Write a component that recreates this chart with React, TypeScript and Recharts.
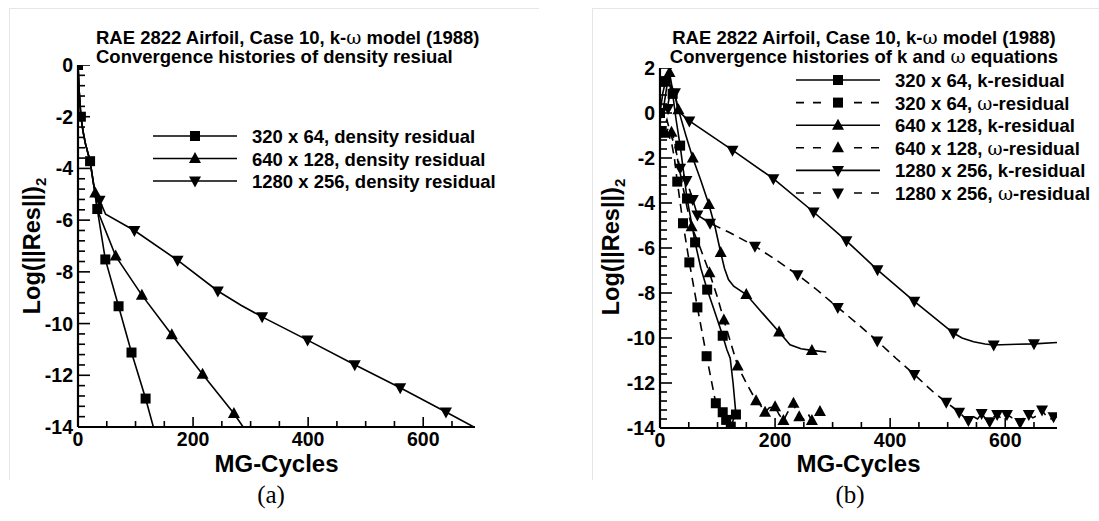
import React from "react";
import { ComposedChart, Line, Scatter, XAxis, YAxis } from "recharts";

type P = { x: number; y: number };
const pts = (a: number[][]): P[] => a.map(([x, y]) => ({ x, y }));

// (a) density residual histories: MG-cycle, log residual
const dens320Line = [[0, 0], [2, -1], [5, -2], [9, -2.6], [13, -3.05], [21, -3.72], [27, -4.6], [33.5, -5.57], [47.5, -7.52], [70.5, -9.33], [93, -11.12], [117.5, -12.9], [131, -14]];
const dens320Marks = [[0, 0], [5, -2], [21, -3.72], [33.5, -5.57], [47.5, -7.52], [70.5, -9.33], [93, -11.12], [117.5, -12.9]];
const dens640Line = [[0, 0], [2, -1], [5, -2], [9, -2.6], [13, -3.05], [21, -3.72], [27, -4.6], [30, -4.95], [33.5, -5.6], [65.5, -7.39], [111, -8.9], [163, -10.43], [216.5, -11.96], [271, -13.48], [287, -14]];
const dens640Marks = [[30, -4.95], [65.5, -7.39], [111, -8.9], [163, -10.43], [216.5, -11.96], [271, -13.48]];
const dens1280Line = [[0, 0], [2, -1], [5, -2], [9, -2.6], [13, -3.05], [21, -3.72], [27, -4.6], [31, -5], [37.5, -5.23], [48, -5.77], [98, -6.4], [173, -7.55], [243, -8.74], [284, -9.3], [320, -9.74], [399, -10.64], [481, -11.59], [560, -12.48], [639.5, -13.42], [688, -14]];
const dens1280Marks = [[37.5, -5.23], [98, -6.4], [173, -7.55], [243, -8.74], [320, -9.74], [399, -10.64], [481, -11.59], [560, -12.48], [639.5, -13.42]];

// (b) k and omega residual histories
const k320Line = [[0, 0], [5, 0.9], [10, 1.45], [16, 1.3], [22, 0.85], [28, -0.3], [35, -1.45], [47, -3.8], [61, -5.75], [71, -6.9], [82, -7.85], [96, -8.9], [109, -9.9], [116, -10.5], [122, -10.9], [127, -12], [132, -13.4], [137, -13.5]];
const k320Marks = [[0, 0], [10, 1.4], [22, 0.85], [35, -1.45], [47, -3.8], [61, -5.75], [82, -7.85], [109, -9.9], [132, -13.4]];
const w320Line = [[0, -0.8], [5, -0.9], [10, -0.6], [15, -1], [20, -1.3], [25, -2], [30, -3.05], [40, -4.9], [51, -6.64], [65, -8.64], [81, -10.81], [97, -12.9], [103, -13.1], [109, -13.3], [115, -13.64], [119, -13.5], [123, -13.94], [128, -13.6], [133, -13.4]];
const w320Marks = [[3, -0.8], [30, -3.05], [40, -4.9], [51, -6.64], [65, -8.64], [81, -10.81], [97, -12.9], [109, -13.3], [115, -13.64], [123, -13.94]];
const k640Line = [[0, -0.3], [6, 0.2], [12, 1.2], [16.5, 1.8], [22, 1], [28, 0.6], [32, 0.15], [45, -1], [57, -2], [71, -3], [85, -4.07], [96, -5.1], [105.5, -6.2], [112, -6.9], [119, -7.4], [128, -7.7], [150, -8.07], [180, -8.95], [207, -9.73], [226, -10.3], [245, -10.48], [264, -10.55], [289, -10.62]];
const k640Marks = [[16.5, 1.8], [32, 0.15], [57, -2], [85, -4.07], [105.5, -6.2], [150, -8.07], [207, -9.73], [264, -10.55]];
const w640Line = [[0, -0.7], [5, -1.2], [10, -0.9], [16, -0.6], [20, -0.85], [25, -1.2], [30, -2], [40, -3.3], [47, -4.2], [55, -5.05], [70, -6], [86, -7.1], [100, -8.2], [111, -9.2], [124, -10.3], [135, -11.24], [150, -12], [167, -12.79], [175, -13], [182.6, -13.3], [190, -13.1], [200, -13.05], [207, -13.4], [214.5, -13.67], [222, -13.3], [232, -12.9], [237, -13.3], [242, -13.5], [250, -13.6], [258, -13.4], [264, -13.67], [270, -13.4], [278, -13.27], [283, -13.5], [289, -13.47]];
const w640Marks = [[8, -0.9], [20, -0.85], [55, -5.05], [86, -7.1], [111, -9.2], [135, -11.24], [167, -12.79], [182.6, -13.3], [200, -13.05], [214.5, -13.67], [232, -12.9], [242, -13.5], [264, -13.67], [278, -13.27]];
const k1280Line = [[0, -0.2], [8, 0.1], [14, 0.4], [20, 1.2], [26, 0.9], [31, 0.1], [51, -0.35], [126, -1.65], [197, -2.92], [267, -4.4], [324, -5.68], [378, -6.97], [442, -8.37], [510, -9.78], [525, -10], [545, -10.17], [565, -10.27], [580, -10.31], [620, -10.28], [650, -10.26], [690, -10.2]];
const k1280Marks = [[14, 0.2], [26, 0.9], [51, -0.35], [126, -1.65], [197, -2.92], [267, -4.4], [324, -5.68], [378, -6.97], [442, -8.37], [510, -9.78], [580, -10.31], [650, -10.26]];
const w1280Line = [[0, -1], [6, -0.7], [12, -0.3], [18, -0.9], [25, -1.4], [35, -2.46], [46, -3], [57, -3.84], [65, -4.53], [87, -4.9], [120, -5.3], [165, -5.92], [200, -6.5], [239, -7.19], [270, -7.8], [309, -8.64], [340, -9.3], [377.6, -10.13], [410, -10.9], [442, -11.62], [475, -12.4], [497.5, -12.85], [510, -13.1], [520, -13.3], [528, -13.5], [536, -13.67], [545, -13.5], [552, -13.6], [559, -13.35], [566, -13.6], [573, -13.72], [580, -13.5], [586, -13.4], [594, -13.6], [603, -13.4], [612, -13.55], [618, -13.6], [626, -13.76], [634, -13.5], [641, -13.4], [648, -13.55], [655, -13.45], [664, -13.2], [672, -13.5], [680, -13.6], [690, -13.5]];
const w1280Marks = [[35, -2.46], [46, -3], [57, -3.84], [65, -4.53], [87, -4.9], [165, -5.92], [239, -7.19], [309, -8.64], [377.6, -10.13], [442, -11.62], [497.5, -12.85], [520, -13.3], [536, -13.67], [559, -13.35], [573, -13.72], [586, -13.4], [603, -13.4], [626, -13.76], [641, -13.4], [664, -13.2], [684, -13.5]];

const leftLegend = [
  { label: "320 x 64, density residual", kind: "sq", dash: false },
  { label: "640 x 128, density residual", kind: "up", dash: false },
  { label: "1280 x 256, density residual", kind: "down", dash: false },
];
const rightLegend = [
  { label: "320 x 64, k-residual", kind: "sq", dash: false },
  { label: "320 x 64, ", w: true, kind: "sq", dash: true },
  { label: "640 x 128, k-residual", kind: "up", dash: false },
  { label: "640 x 128, ", w: true, kind: "up", dash: true },
  { label: "1280 x 256, k-residual", kind: "down", dash: false },
  { label: "1280 x 256, ", w: true, kind: "down", dash: true },
];

const FONT = "'Liberation Sans', Arial, Helvetica, sans-serif";
const xMajor = [0, 200, 400, 600];
const xMinor = [50, 100, 150, 250, 300, 350, 450, 500, 550, 650];
const leftYMajor = [0, -2, -4, -6, -8, -10, -12, -14];
const rightYMajor = [2, 0, -2, -4, -6, -8, -10, -12, -14];
const minorY = (top: number, bottom: number) =>
  Array.from({ length: Math.round((top - bottom) / 0.4) + 1 }, (_, i) => Math.round((top - i * 0.4) * 10) / 10).filter(
    (v) => Math.abs(v / 2 - Math.round(v / 2)) > 1e-6
  );

const Mark = ({ kind, cx, cy }: { kind: string; cx: number; cy: number }) => {
  if (kind === "sq") return <rect x={cx - 5} y={cy - 5} width={10} height={10} fill="#000" />;
  if (kind === "up") return <path d={`M${cx},${cy - 6.5}L${cx + 6},${cy + 4.5}L${cx - 6},${cy + 4.5}Z`} fill="#000" />;
  return <path d={`M${cx},${cy + 6.5}L${cx + 6},${cy - 4.5}L${cx - 6},${cy - 4.5}Z`} fill="#000" />;
};

const XLabel = (p: any) => (
  <text x={p.x} y={p.y + 19} textAnchor="middle" fontFamily={FONT} fontWeight="bold" fontSize={19.5} fill="#000">
    {p.payload.value}
  </text>
);
const YTickLabel = (p: any) => (
  <text x={p.x - 5} y={p.y + 7} textAnchor="end" fontFamily={FONT} fontWeight="bold" fontSize={19.5} fill="#000">
    {p.payload.value}
  </text>
);

type Series = { line: number[][]; marks: number[][]; kind: string; dash: boolean };

// inward tick marks, placed through the chart scales at the axis edge
const tickMarks = (key: string, data: P[], len: number, vertical: boolean) => (
  <Scatter
    key={key}
    data={data}
    dataKey="y"
    isAnimationActive={false}
    shape={(p: any) =>
      vertical ? (
        <rect x={p.cx - 0.8} y={p.cy - len} width={1.6} height={len} fill="#000" />
      ) : (
        <rect x={p.cx} y={p.cy - 0.8} width={len} height={1.6} fill="#000" />
      )
    }
  />
);

const Panel = ({ series, yDomain, yMajor, margin, width }: { series: Series[]; yDomain: number[]; yMajor: number[]; margin: any; width: number }) => (
  <ComposedChart width={width} height={521} margin={margin}>
    <XAxis
      dataKey="x"
      type="number"
      domain={[0, 690]}
      ticks={xMajor}
      interval={0}
      height={40}
      tickSize={0}
      tickMargin={0}
      tickLine={false}
      axisLine={{ stroke: "#000", strokeWidth: 2.2 }}
      tick={(p: any) => <XLabel {...p} />}
      allowDataOverflow
    />
    <YAxis
      dataKey="y"
      type="number"
      domain={yDomain}
      ticks={yMajor}
      interval={0}
      width={60}
      tickSize={0}
      tickMargin={0}
      tickLine={false}
      axisLine={{ stroke: "#000", strokeWidth: 2.2 }}
      tick={(p: any) => <YTickLabel {...p} />}
      allowDataOverflow
    />
    {series.map((s, i) => (
      <Line
        key={"l" + i}
        data={pts(s.line)}
        dataKey="y"
        type="linear"
        stroke="#000"
        strokeWidth={1.6}
        strokeDasharray={s.dash ? "9 6" : undefined}
        dot={false}
        activeDot={false}
        isAnimationActive={false}
      />
    ))}
    {series.map((s, i) => (
      <Scatter
        key={"s" + i}
        data={pts(s.marks)}
        dataKey="y"
        isAnimationActive={false}
        shape={(p: any) => <Mark kind={s.kind} cx={p.cx} cy={p.cy} />}
      />
    ))}
    {tickMarks("txM", xMajor.map((x) => ({ x, y: yDomain[0] })), 10, true)}
    {tickMarks("txm", xMinor.map((x) => ({ x, y: yDomain[0] })), 6, true)}
    {tickMarks("tyM", yMajor.map((y) => ({ x: 0, y })), 12, false)}
    {tickMarks("tym", minorY(yDomain[1], yDomain[0]).map((y) => ({ x: 0, y })), 7, false)}
  </ComposedChart>
);

const LegendRow = ({ x0, x1, y, tx, kind, dash, label, w }: any) => (
  <g>
    {dash ? (
      <>
        <line x1={x0} x2={(x0 + x1) / 2 - 16} y1={y} y2={y} stroke="#000" strokeWidth={1.6} strokeDasharray="8 9" />
        <line x1={(x0 + x1) / 2 + 16} x2={x1} y1={y} y2={y} stroke="#000" strokeWidth={1.6} strokeDasharray="8 9" />
      </>
    ) : (
      <line x1={x0} x2={x1} y1={y} y2={y} stroke="#000" strokeWidth={1.6} />
    )}
    <Mark kind={kind} cx={(x0 + x1) / 2} cy={y} />
    <text x={tx} y={y + 7} fontFamily={FONT} fontWeight="bold" fontSize={18.5} fill="#000">
      {label}
      {w && (
        <>
          <tspan fontFamily="'DejaVu Serif', serif" fontWeight="normal">ω</tspan>-residual
        </>
      )}
    </text>
  </g>
);

const YLabel = ({ x, y }: { x: number; y: number }) => (
  <text transform={`translate(${x},${y}) rotate(-90)`} textAnchor="middle" fontFamily={FONT} fontWeight="bold" fontSize={23.5} fill="#000">
    Log(||Res||)
    <tspan fontSize={15} dy={6}>2</tspan>
  </text>
);

export default function App() {
  const leftSeries: Series[] = [
    { line: dens320Line, marks: dens320Marks, kind: "sq", dash: false },
    { line: dens640Line, marks: dens640Marks, kind: "up", dash: false },
    { line: dens1280Line, marks: dens1280Marks, kind: "down", dash: false },
  ];
  const rightSeries: Series[] = [
    { line: k320Line, marks: k320Marks, kind: "sq", dash: false },
    { line: w320Line, marks: w320Marks, kind: "sq", dash: true },
    { line: k640Line, marks: k640Marks, kind: "up", dash: false },
    { line: w640Line, marks: w640Marks, kind: "up", dash: true },
    { line: k1280Line, marks: k1280Marks, kind: "down", dash: false },
    { line: w1280Line, marks: w1280Marks, kind: "down", dash: true },
  ];
  return (
    <div style={{ position: "absolute", left: 0, top: 0, width: 1099, height: 521, background: "#fff", overflow: "hidden" }}>
      <div style={{ position: "absolute", left: 0, top: 0 }}>
        <Panel series={leftSeries} yDomain={[-14, 0]} yMajor={leftYMajor} width={550} margin={{ top: 65, right: 75, bottom: 54, left: 18 }} />
      </div>
      <div style={{ position: "absolute", left: 550, top: 0 }}>
        <Panel series={rightSeries} yDomain={[-14, 2]} yMajor={rightYMajor} width={549} margin={{ top: 68, right: 42, bottom: 53, left: 50 }} />
      </div>
      <svg width={1099} height={521} style={{ position: "absolute", left: 0, top: 0, pointerEvents: "none" }}>
        <g stroke="#e6e6e6" strokeWidth={1}>
          <line x1={9} x2={539} y1={8.5} y2={8.5} />
          <line x1={9.5} x2={9.5} y1={8} y2={480} />
          <line x1={592} x2={1099} y1={8.5} y2={8.5} />
          <line x1={592.5} x2={592.5} y1={8} y2={480} />
        </g>
        <g fontFamily={FONT} fontWeight="bold" fontSize={18.5} fill="#000">
          <text x={96} y={44}>
            RAE 2822 Airfoil, Case 10, k-<tspan fontFamily="'DejaVu Serif', serif" fontWeight="normal">ω</tspan> model (1988)
          </text>
          <text x={96} y={63}>Convergence histories of density resiual</text>
          <text x={864} y={44} textAnchor="middle">
            RAE 2822 Airfoil, Case 10, k-<tspan fontFamily="'DejaVu Serif', serif" fontWeight="normal">ω</tspan> model (1988)
          </text>
          <text x={864} y={63} textAnchor="middle">
            Convergence histories of k and <tspan fontFamily="'DejaVu Serif', serif" fontWeight="normal">ω</tspan> equations
          </text>
        </g>
        {leftLegend.map((r, i) => (
          <LegendRow key={i} x0={153} x1={237} y={136 + i * 22.5} tx={252} {...r} />
        ))}
        {rightLegend.map((r, i) => (
          <LegendRow key={i} x0={796} x1={880} y={80 + i * 22.6} tx={895} {...r} />
        ))}
        <g fontFamily={FONT} fontWeight="bold" fontSize={24} fill="#000" textAnchor="middle">
          <text x={276.5} y={472}>MG-Cycles</text>
          <text x={858.5} y={472}>MG-Cycles</text>
        </g>
        <YLabel x={40} y={246} />
        <YLabel x={619} y={247} />
        <g fontFamily="'Liberation Serif', 'Times New Roman', serif" fontSize={25} fill="#000" textAnchor="middle">
          <text x={271} y={503}>(a)</text>
          <text x={850} y={503}>(b)</text>
        </g>
      </svg>
    </div>
  );
}
